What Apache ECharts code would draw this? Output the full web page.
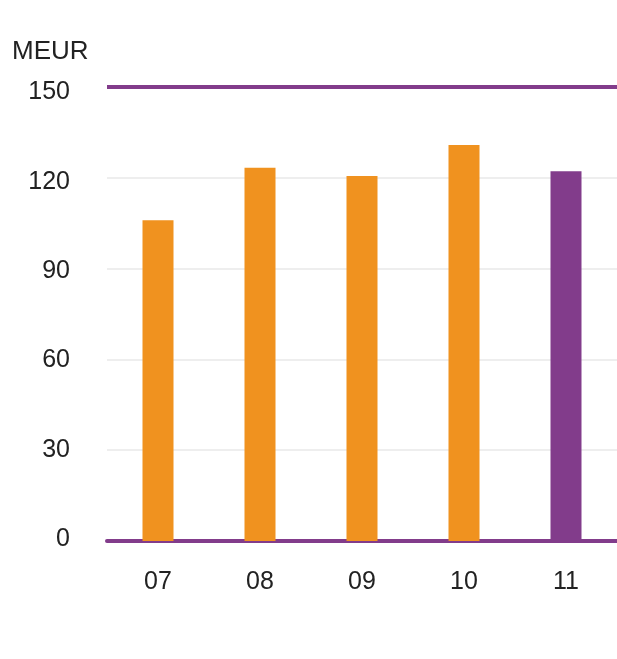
<!DOCTYPE html>
<html>
<head>
<meta charset="utf-8">
<script src="https://cdn.jsdelivr.net/npm/echarts@6/dist/echarts.min.js"></script>
<style>html,body{margin:0;padding:0;background:#fff;}#c{width:617px;height:659px;}</style>
</head>
<body>
<div id="c"></div>
<script>
var categories = ['07', '08', '09', '10', '11'];
var values = [106, 123.3, 120.6, 130.8, 122.2];
var yTicks = [0, 30, 60, 90, 120, 150];
var unitLabel = 'MEUR';

var orange = '#F0921F';
var purple = '#823C8B';
var fontFam = '"Liberation Sans", Arial, sans-serif';

// small vertical nudges of the y tick labels (px, positive = down)
var labelShift = { 0: -1.5, 30: -0.5, 60: 1, 90: 2.5, 120: 4, 150: 5.5 };
var rich = {};
yTicks.forEach(function (t) {
  var s = labelShift[t] || 0;
  rich['t' + t] = {
    color: '#222', fontSize: 25, fontFamily: fontFam,
    padding: s >= 0 ? [2 * s, 0, 0, 0] : [0, 0, -2 * s, 0]
  };
});

var chart = echarts.init(document.getElementById('c'));
chart.setOption({
  animation: false,
  grid: { left: 107, right: 0, top: 87, bottom: 118 },
  graphic: [{ type: 'text', left: 12, top: 39, style: { text: unitLabel, font: '26px ' + fontFam, fill: '#222' } }],
  xAxis: {
    type: 'category',
    data: categories,
    axisLine: { show: true, lineStyle: { color: purple, width: 4 } },
    axisTick: { show: false },
    axisLabel: { color: '#222', fontSize: 25, fontFamily: fontFam, margin: 29 }
  },
  yAxis: {
    type: 'value',
    min: yTicks[0],
    max: yTicks[yTicks.length - 1],
    interval: 30,
    axisLine: { show: false },
    axisTick: { show: false },
    axisLabel: {
      margin: 37,
      formatter: function (v) { return '{t' + v + '|' + v + '}'; },
      rich: rich
    },
    splitLine: { show: true, lineStyle: { color: ['transparent', '#eeeeee', '#eeeeee', '#eeeeee', '#eeeeee', 'transparent'], width: 2 } }
  },
  series: [{
    type: 'bar',
    barWidth: 31,
    data: values.map(function (v, i) {
      return { value: v, itemStyle: { color: i === values.length - 1 ? purple : orange } };
    }),
    markLine: {
      silent: true,
      symbol: 'none',
      label: { show: false },
      lineStyle: { color: purple, width: 4, type: 'solid' },
      data: [{ yAxis: 150 }]
    }
  }]
});
</script>
</body>
</html>
